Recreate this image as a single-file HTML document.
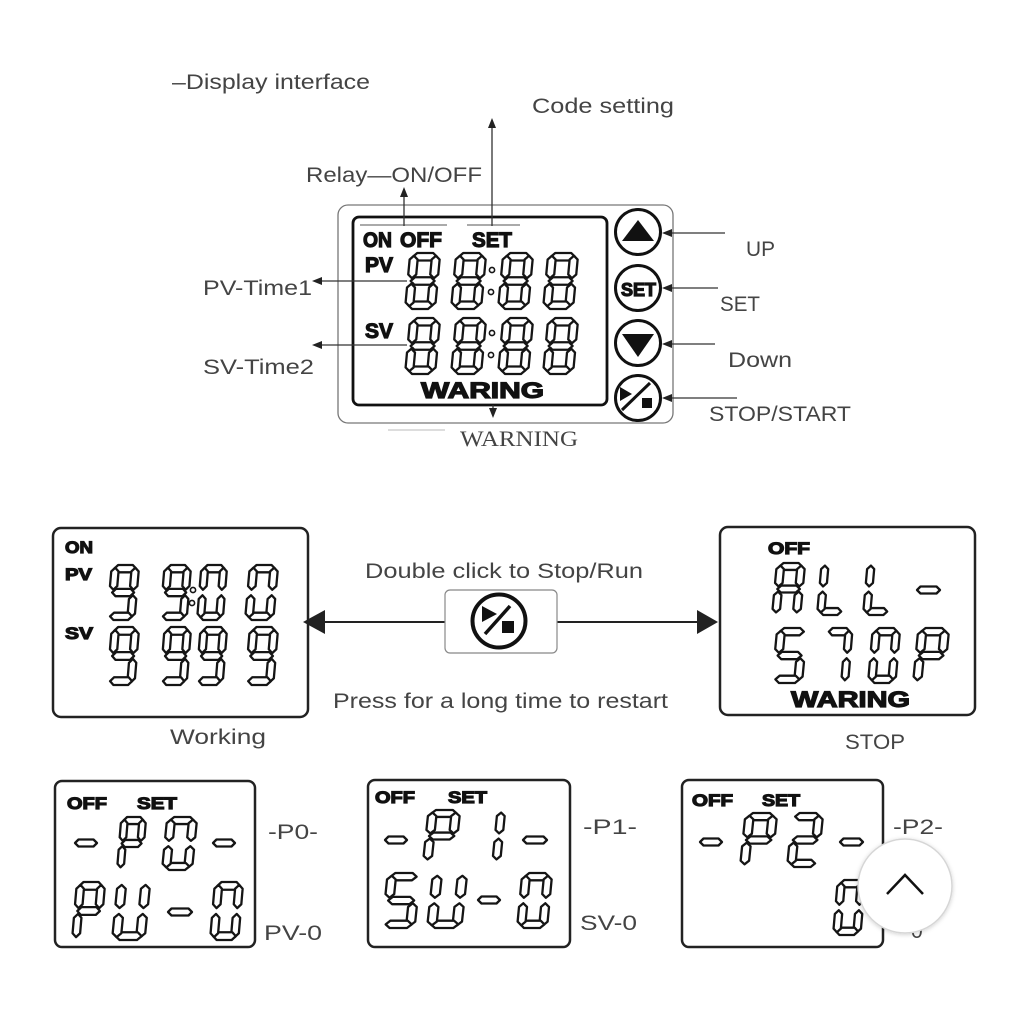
<!DOCTYPE html>
<html><head><meta charset="utf-8"><style>
html,body{margin:0;padding:0;background:#fff}
svg{display:block}
.d polygon{fill:#fff;stroke:#151515;stroke-width:2.3;vector-effect:non-scaling-stroke;stroke-linejoin:round}
.dash{fill:#fff;stroke:#151515;stroke-width:2.3;stroke-linejoin:round}
.lbl{font-family:"Liberation Sans",sans-serif;fill:#444;font-size:21px}
.lcd{font-family:"Liberation Sans",sans-serif;font-weight:bold;fill:#111;stroke:#111;stroke-width:1.2}
.ln{stroke:#333;stroke-width:1.3;fill:none}
.ah{fill:#222}
</style></head><body>
<svg width="1024" height="1024" viewBox="0 0 1024 1024" xmlns="http://www.w3.org/2000/svg">
<defs><filter id="sh" x="-30%" y="-30%" width="160%" height="160%"><feDropShadow dx="0" dy="1" stdDeviation="2" flood-color="#000" flood-opacity="0.18"/></filter></defs>
<rect width="1024" height="1024" fill="#fff"/>

<!-- top labels -->
<text class="lbl" x="172" y="89" font-size="22" textLength="198" lengthAdjust="spacingAndGlyphs">–Display interface</text>
<text class="lbl" x="532" y="113" font-size="22" textLength="142" lengthAdjust="spacingAndGlyphs">Code setting</text>
<text class="lbl" x="306" y="182" font-size="22" textLength="176" lengthAdjust="spacingAndGlyphs">Relay—ON/OFF</text>
<text class="lbl" x="203" y="295" textLength="109" lengthAdjust="spacingAndGlyphs">PV-Time1</text>
<text class="lbl" x="203" y="374" textLength="111" lengthAdjust="spacingAndGlyphs">SV-Time2</text>
<text class="lbl" x="746" y="256" textLength="29" lengthAdjust="spacingAndGlyphs">UP</text>
<text class="lbl" x="720" y="311" textLength="40" lengthAdjust="spacingAndGlyphs">SET</text>
<text class="lbl" x="728" y="367" textLength="64" lengthAdjust="spacingAndGlyphs">Down</text>
<text class="lbl" x="709" y="421" textLength="142" lengthAdjust="spacingAndGlyphs">STOP/START</text>
<text x="460" y="446" font-family="'Liberation Serif',serif" font-size="22" fill="#444" textLength="118" lengthAdjust="spacingAndGlyphs">WARNING</text>
<line x1="388" y1="430" x2="445" y2="430" stroke="#bbb" stroke-width="1"/>

<!-- top housing -->
<rect x="338" y="205" width="335" height="218" rx="10" fill="none" stroke="#777" stroke-width="1.3"/>
<rect x="353" y="217" width="254" height="188" rx="6" fill="none" stroke="#111" stroke-width="2.8"/>
<line x1="360" y1="225" x2="447" y2="225" stroke="#555" stroke-width="1"/>
<line x1="467" y1="225" x2="520" y2="225" stroke="#555" stroke-width="1"/>

<!-- connectors top -->
<line class="ln" x1="404" y1="226" x2="404" y2="196"/><polygon class="ah" points="404,187 400,197 408,197"/>
<line class="ln" x1="492" y1="226" x2="492" y2="127"/><polygon class="ah" points="492,118 488,128 496,128"/>
<line class="ln" x1="407" y1="281" x2="320" y2="281"/><polygon class="ah" points="312,281 322,277 322,285"/>
<line class="ln" x1="407" y1="345" x2="320" y2="345"/><polygon class="ah" points="312,345 322,341 322,349"/>
<line class="ln" x1="672" y1="233" x2="725" y2="233"/><polygon class="ah" points="662,233 672,229 672,237"/>
<line class="ln" x1="672" y1="288" x2="718" y2="288"/><polygon class="ah" points="662,288 672,284 672,292"/>
<line class="ln" x1="672" y1="344" x2="715" y2="344"/><polygon class="ah" points="662,344 672,340 672,348"/>
<line class="ln" x1="672" y1="398" x2="737" y2="398"/><polygon class="ah" points="662,398 672,394 672,402"/>
<line class="ln" x1="493" y1="405" x2="493" y2="409"/><polygon class="ah" points="493,418 489,408 497,408"/>

<!-- top LCD labels -->
<text class="lcd" x="363" y="247" font-size="21" textLength="29" lengthAdjust="spacingAndGlyphs">ON</text>
<text class="lcd" x="400" y="247" font-size="21" textLength="42" lengthAdjust="spacingAndGlyphs">OFF</text>
<text class="lcd" x="472" y="247" font-size="21" textLength="40" lengthAdjust="spacingAndGlyphs">SET</text>
<text class="lcd" x="365" y="272" font-size="21" textLength="28" lengthAdjust="spacingAndGlyphs">PV</text>
<text class="lcd" x="365" y="338" font-size="21" textLength="28" lengthAdjust="spacingAndGlyphs">SV</text>
<text class="lcd" x="421" y="398" font-size="22" textLength="123" lengthAdjust="spacingAndGlyphs" stroke-width="0.8">WARING</text>

<!-- top digits -->
<g class="d" transform="translate(405,253) scale(1,.933) translate(5.25,0) skewX(-5)"><polygon points="7,0 23,0 27,4 23,8 7,8 3,4"/><polygon points="22,7 26,3 30,7 30,23 26,27 22,23"/><polygon points="22,37 26,33 30,37 30,53 26,57 22,53"/><polygon points="7,52 23,52 27,56 23,60 7,60 3,56"/><polygon points="0,37 4,33 8,37 8,53 4,57 0,53"/><polygon points="0,7 4,3 8,7 8,23 4,27 0,23"/><polygon points="7,26 23,26 27,30 23,34 7,34 3,30"/></g>
<g class="d" transform="translate(451,253) scale(1,.933) translate(5.25,0) skewX(-5)"><polygon points="7,0 23,0 27,4 23,8 7,8 3,4"/><polygon points="22,7 26,3 30,7 30,23 26,27 22,23"/><polygon points="22,37 26,33 30,37 30,53 26,57 22,53"/><polygon points="7,52 23,52 27,56 23,60 7,60 3,56"/><polygon points="0,37 4,33 8,37 8,53 4,57 0,53"/><polygon points="0,7 4,3 8,7 8,23 4,27 0,23"/><polygon points="7,26 23,26 27,30 23,34 7,34 3,30"/></g>
<g class="d" transform="translate(498,253) scale(1,.933) translate(5.25,0) skewX(-5)"><polygon points="7,0 23,0 27,4 23,8 7,8 3,4"/><polygon points="22,7 26,3 30,7 30,23 26,27 22,23"/><polygon points="22,37 26,33 30,37 30,53 26,57 22,53"/><polygon points="7,52 23,52 27,56 23,60 7,60 3,56"/><polygon points="0,37 4,33 8,37 8,53 4,57 0,53"/><polygon points="0,7 4,3 8,7 8,23 4,27 0,23"/><polygon points="7,26 23,26 27,30 23,34 7,34 3,30"/></g>
<g class="d" transform="translate(543,253) scale(1,.933) translate(5.25,0) skewX(-5)"><polygon points="7,0 23,0 27,4 23,8 7,8 3,4"/><polygon points="22,7 26,3 30,7 30,23 26,27 22,23"/><polygon points="22,37 26,33 30,37 30,53 26,57 22,53"/><polygon points="7,52 23,52 27,56 23,60 7,60 3,56"/><polygon points="0,37 4,33 8,37 8,53 4,57 0,53"/><polygon points="0,7 4,3 8,7 8,23 4,27 0,23"/><polygon points="7,26 23,26 27,30 23,34 7,34 3,30"/></g>
<g class="d" transform="translate(405,318) scale(1,.933) translate(5.25,0) skewX(-5)"><polygon points="7,0 23,0 27,4 23,8 7,8 3,4"/><polygon points="22,7 26,3 30,7 30,23 26,27 22,23"/><polygon points="22,37 26,33 30,37 30,53 26,57 22,53"/><polygon points="7,52 23,52 27,56 23,60 7,60 3,56"/><polygon points="0,37 4,33 8,37 8,53 4,57 0,53"/><polygon points="0,7 4,3 8,7 8,23 4,27 0,23"/><polygon points="7,26 23,26 27,30 23,34 7,34 3,30"/></g>
<g class="d" transform="translate(451,318) scale(1,.933) translate(5.25,0) skewX(-5)"><polygon points="7,0 23,0 27,4 23,8 7,8 3,4"/><polygon points="22,7 26,3 30,7 30,23 26,27 22,23"/><polygon points="22,37 26,33 30,37 30,53 26,57 22,53"/><polygon points="7,52 23,52 27,56 23,60 7,60 3,56"/><polygon points="0,37 4,33 8,37 8,53 4,57 0,53"/><polygon points="0,7 4,3 8,7 8,23 4,27 0,23"/><polygon points="7,26 23,26 27,30 23,34 7,34 3,30"/></g>
<g class="d" transform="translate(498,318) scale(1,.933) translate(5.25,0) skewX(-5)"><polygon points="7,0 23,0 27,4 23,8 7,8 3,4"/><polygon points="22,7 26,3 30,7 30,23 26,27 22,23"/><polygon points="22,37 26,33 30,37 30,53 26,57 22,53"/><polygon points="7,52 23,52 27,56 23,60 7,60 3,56"/><polygon points="0,37 4,33 8,37 8,53 4,57 0,53"/><polygon points="0,7 4,3 8,7 8,23 4,27 0,23"/><polygon points="7,26 23,26 27,30 23,34 7,34 3,30"/></g>
<g class="d" transform="translate(543,318) scale(1,.933) translate(5.25,0) skewX(-5)"><polygon points="7,0 23,0 27,4 23,8 7,8 3,4"/><polygon points="22,7 26,3 30,7 30,23 26,27 22,23"/><polygon points="22,37 26,33 30,37 30,53 26,57 22,53"/><polygon points="7,52 23,52 27,56 23,60 7,60 3,56"/><polygon points="0,37 4,33 8,37 8,53 4,57 0,53"/><polygon points="0,7 4,3 8,7 8,23 4,27 0,23"/><polygon points="7,26 23,26 27,30 23,34 7,34 3,30"/></g>
<g fill="#fff" stroke="#151515" stroke-width="1.6"><circle cx="492" cy="270" r="2.6"/><circle cx="491" cy="292" r="2.6"/><circle cx="492" cy="333" r="2.6"/><circle cx="491" cy="355" r="2.6"/></g>

<!-- buttons -->
<g fill="none" stroke="#111" stroke-width="3"><circle cx="638" cy="232" r="22.5"/><circle cx="638" cy="288" r="22.5"/><circle cx="638" cy="343" r="22.5"/><circle cx="638" cy="398" r="22.5"/></g>
<polygon points="638,220 622,241 654,241" fill="#111"/>
<polygon points="622,334 654,334 638,357" fill="#111"/>
<text class="lcd" x="621" y="296" font-size="18" textLength="35" lengthAdjust="spacingAndGlyphs" stroke-width="0.6">SET</text>
<polygon points="620,387 620,401 632,394" fill="#111"/>
<rect x="642" y="398" width="10" height="10" fill="#111"/>
<line x1="622" y1="410" x2="650" y2="383" stroke="#111" stroke-width="3"/>

<!-- middle section -->
<rect x="53" y="528" width="255" height="189" rx="8" fill="none" stroke="#222" stroke-width="2.5"/>
<rect x="720" y="527" width="255" height="188" rx="8" fill="none" stroke="#222" stroke-width="2.5"/>
<line x1="324" y1="622" x2="445" y2="622" stroke="#222" stroke-width="2"/>
<polygon class="ah" points="303,622 325,610 325,634"/>
<line x1="557" y1="622" x2="698" y2="622" stroke="#222" stroke-width="2"/>
<polygon class="ah" points="718,622 697,610 697,634"/>
<rect x="445" y="590" width="112" height="63" rx="5" fill="#fff" stroke="#888" stroke-width="1.2"/>
<circle cx="499" cy="621" r="26.5" fill="none" stroke="#111" stroke-width="4"/>
<polygon points="482,606 482,622 497,614" fill="#111"/>
<rect x="502" y="621" width="12" height="12" fill="#111"/>
<line x1="485" y1="634" x2="510" y2="606" stroke="#111" stroke-width="3.5"/>
<text class="lbl" x="365" y="578" textLength="278" lengthAdjust="spacingAndGlyphs">Double click to Stop/Run</text>
<text class="lbl" x="333" y="708" textLength="335" lengthAdjust="spacingAndGlyphs">Press for a long time to restart</text>
<text class="lbl" x="170" y="744" textLength="96" lengthAdjust="spacingAndGlyphs">Working</text>
<text class="lbl" x="845" y="749" textLength="60" lengthAdjust="spacingAndGlyphs">STOP</text>

<!-- working display -->
<text class="lcd" x="65" y="553" font-size="17" textLength="28" lengthAdjust="spacingAndGlyphs">ON</text>
<text class="lcd" x="65" y="580" font-size="17" textLength="27" lengthAdjust="spacingAndGlyphs">PV</text>
<text class="lcd" x="65" y="639" font-size="17" textLength="28" lengthAdjust="spacingAndGlyphs">SV</text>
<!-- 9 9 : 0 0 -->
<g class="d" transform="translate(107,565) scale(.914,.917) translate(5.25,0) skewX(-5)"><polygon points="7,0 23,0 27,4 23,8 7,8 3,4"/><polygon points="22,7 26,3 30,7 30,23 26,27 22,23"/><polygon points="22,37 26,33 30,37 30,53 26,57 22,53"/><polygon points="7,52 23,52 27,56 23,60 7,60 3,56"/><polygon points="0,7 4,3 8,7 8,23 4,27 0,23"/><polygon points="7,26 23,26 27,30 23,34 7,34 3,30"/></g>
<g class="d" transform="translate(160,565) scale(.885,.917) translate(5.25,0) skewX(-5)"><polygon points="7,0 23,0 27,4 23,8 7,8 3,4"/><polygon points="22,7 26,3 30,7 30,23 26,27 22,23"/><polygon points="22,37 26,33 30,37 30,53 26,57 22,53"/><polygon points="7,52 23,52 27,56 23,60 7,60 3,56"/><polygon points="0,7 4,3 8,7 8,23 4,27 0,23"/><polygon points="7,26 23,26 27,30 23,34 7,34 3,30"/></g>
<g class="d" transform="translate(197,565) scale(.858,.917) translate(5.25,0) skewX(-5)"><polygon points="7,0 23,0 27,4 23,8 7,8 3,4"/><polygon points="22,7 26,3 30,7 30,23 26,27 22,23"/><polygon points="22,37 26,33 30,37 30,53 26,57 22,53"/><polygon points="7,52 23,52 27,56 23,60 7,60 3,56"/><polygon points="0,37 4,33 8,37 8,53 4,57 0,53"/><polygon points="0,7 4,3 8,7 8,23 4,27 0,23"/></g>
<g class="d" transform="translate(245,565) scale(.942,.917) translate(5.25,0) skewX(-5)"><polygon points="7,0 23,0 27,4 23,8 7,8 3,4"/><polygon points="22,7 26,3 30,7 30,23 26,27 22,23"/><polygon points="22,37 26,33 30,37 30,53 26,57 22,53"/><polygon points="7,52 23,52 27,56 23,60 7,60 3,56"/><polygon points="0,37 4,33 8,37 8,53 4,57 0,53"/><polygon points="0,7 4,3 8,7 8,23 4,27 0,23"/></g>
<g fill="#fff" stroke="#151515" stroke-width="1.6"><circle cx="193" cy="590" r="2.6"/><circle cx="192" cy="603" r="2.6"/></g>
<!-- SV 9999 -->
<g class="d" transform="translate(107,627) scale(.914,.967) translate(5.25,0) skewX(-5)"><polygon points="7,0 23,0 27,4 23,8 7,8 3,4"/><polygon points="22,7 26,3 30,7 30,23 26,27 22,23"/><polygon points="22,37 26,33 30,37 30,53 26,57 22,53"/><polygon points="7,52 23,52 27,56 23,60 7,60 3,56"/><polygon points="0,7 4,3 8,7 8,23 4,27 0,23"/><polygon points="7,26 23,26 27,30 23,34 7,34 3,30"/></g>
<g class="d" transform="translate(160,627) scale(.885,.967) translate(5.25,0) skewX(-5)"><polygon points="7,0 23,0 27,4 23,8 7,8 3,4"/><polygon points="22,7 26,3 30,7 30,23 26,27 22,23"/><polygon points="22,37 26,33 30,37 30,53 26,57 22,53"/><polygon points="7,52 23,52 27,56 23,60 7,60 3,56"/><polygon points="0,7 4,3 8,7 8,23 4,27 0,23"/><polygon points="7,26 23,26 27,30 23,34 7,34 3,30"/></g>
<g class="d" transform="translate(196,627) scale(.885,.967) translate(5.25,0) skewX(-5)"><polygon points="7,0 23,0 27,4 23,8 7,8 3,4"/><polygon points="22,7 26,3 30,7 30,23 26,27 22,23"/><polygon points="22,37 26,33 30,37 30,53 26,57 22,53"/><polygon points="7,52 23,52 27,56 23,60 7,60 3,56"/><polygon points="0,7 4,3 8,7 8,23 4,27 0,23"/><polygon points="7,26 23,26 27,30 23,34 7,34 3,30"/></g>
<g class="d" transform="translate(245,627) scale(.942,.967) translate(5.25,0) skewX(-5)"><polygon points="7,0 23,0 27,4 23,8 7,8 3,4"/><polygon points="22,7 26,3 30,7 30,23 26,27 22,23"/><polygon points="22,37 26,33 30,37 30,53 26,57 22,53"/><polygon points="7,52 23,52 27,56 23,60 7,60 3,56"/><polygon points="0,7 4,3 8,7 8,23 4,27 0,23"/><polygon points="7,26 23,26 27,30 23,34 7,34 3,30"/></g>

<!-- stop display -->
<text class="lcd" x="768" y="554" font-size="17" textLength="42" lengthAdjust="spacingAndGlyphs">OFF</text>
<text class="lcd" x="791" y="707" font-size="22" textLength="119" lengthAdjust="spacingAndGlyphs" stroke-width="0.8">WARING</text>
<!-- A -->
<g class="d" transform="translate(772,563) scale(.942,.867) translate(5.25,0) skewX(-5)"><polygon points="7,0 23,0 27,4 23,8 7,8 3,4"/><polygon points="22,7 26,3 30,7 30,23 26,27 22,23"/><polygon points="22,37 26,33 30,37 30,53 26,57 22,53"/><polygon points="0,37 4,33 8,37 8,53 4,57 0,53"/><polygon points="0,7 4,3 8,7 8,23 4,27 0,23"/><polygon points="7,26 23,26 27,30 23,34 7,34 3,30"/></g>
<!-- L L -->
<g class="d" transform="translate(817,563) scale(.885,.867) translate(5.25,0) skewX(-5)"><polygon points="7,52 23,52 27,56 23,60 7,60 3,56"/><polygon points="0,37 4,33 8,37 8,53 4,57 0,53"/><polygon points="0,7 4,3 8,7 8,23 4,27 0,23"/></g>
<g class="d" transform="translate(863,563) scale(.885,.867) translate(5.25,0) skewX(-5)"><polygon points="7,52 23,52 27,56 23,60 7,60 3,56"/><polygon points="0,37 4,33 8,37 8,53 4,57 0,53"/><polygon points="0,7 4,3 8,7 8,23 4,27 0,23"/></g>
<polygon class="dash" points="917,590 920.5,586.5 936.5,586.5 940,590 936.5,593.5 920.5,593.5"/>
<!-- S 7 0 P -->
<g class="d" transform="translate(772,628) scale(.999,.917) translate(5.25,0) skewX(-5)"><polygon points="7,0 23,0 27,4 23,8 7,8 3,4"/><polygon points="22,37 26,33 30,37 30,53 26,57 22,53"/><polygon points="7,52 23,52 27,56 23,60 7,60 3,56"/><polygon points="0,7 4,3 8,7 8,23 4,27 0,23"/><polygon points="7,26 23,26 27,30 23,34 7,34 3,30"/></g>
<g class="d" transform="translate(822,628) scale(.869,.917) translate(5.25,0) skewX(-5)"><polygon points="7,0 23,0 27,4 23,8 7,8 3,4"/><polygon points="22,7 26,3 30,7 30,23 26,27 22,23"/><polygon points="22,37 26,33 30,37 30,53 26,57 22,53"/></g>
<g class="d" transform="translate(868,628) scale(.914,.917) translate(5.25,0) skewX(-5)"><polygon points="7,0 23,0 27,4 23,8 7,8 3,4"/><polygon points="22,7 26,3 30,7 30,23 26,27 22,23"/><polygon points="22,37 26,33 30,37 30,53 26,57 22,53"/><polygon points="7,52 23,52 27,56 23,60 7,60 3,56"/><polygon points="0,37 4,33 8,37 8,53 4,57 0,53"/><polygon points="0,7 4,3 8,7 8,23 4,27 0,23"/></g>
<g class="d" transform="translate(913,628) scale(1.028,.917) translate(5.25,0) skewX(-5)"><polygon points="7,0 23,0 27,4 23,8 7,8 3,4"/><polygon points="22,7 26,3 30,7 30,23 26,27 22,23"/><polygon points="0,37 4,33 8,37 8,53 4,57 0,53"/><polygon points="0,7 4,3 8,7 8,23 4,27 0,23"/><polygon points="7,26 23,26 27,30 23,34 7,34 3,30"/></g>

<!-- bottom boxes -->
<rect x="55" y="781" width="200" height="166" rx="7" fill="none" stroke="#222" stroke-width="2.5"/>
<rect x="368" y="780" width="202" height="167" rx="7" fill="none" stroke="#222" stroke-width="2.5"/>
<rect x="682" y="780" width="201" height="167" rx="7" fill="none" stroke="#222" stroke-width="2.5"/>

<!-- P0 -->
<text class="lcd" x="67" y="809" font-size="17" textLength="40" lengthAdjust="spacingAndGlyphs">OFF</text>
<text class="lcd" x="137" y="809" font-size="17" textLength="40" lengthAdjust="spacingAndGlyphs">SET</text>
<polygon class="dash" points="75,843 78.5,839.5 93.5,839.5 97,843 93.5,846.5 78.5,846.5"/>
<polygon class="dash" points="213,843 216.5,839.5 231.5,839.5 235,843 231.5,846.5 216.5,846.5"/>
<g class="d" transform="translate(117,817) scale(.828,.883) translate(5.25,0) skewX(-5)"><polygon points="7,0 23,0 27,4 23,8 7,8 3,4"/><polygon points="22,7 26,3 30,7 30,23 26,27 22,23"/><polygon points="0,37 4,33 8,37 8,53 4,57 0,53"/><polygon points="0,7 4,3 8,7 8,23 4,27 0,23"/><polygon points="7,26 23,26 27,30 23,34 7,34 3,30"/></g>
<g class="d" transform="translate(162,817) scale(1,.883) translate(5.25,0) skewX(-5)"><polygon points="7,0 23,0 27,4 23,8 7,8 3,4"/><polygon points="22,7 26,3 30,7 30,23 26,27 22,23"/><polygon points="22,37 26,33 30,37 30,53 26,57 22,53"/><polygon points="7,52 23,52 27,56 23,60 7,60 3,56"/><polygon points="0,37 4,33 8,37 8,53 4,57 0,53"/><polygon points="0,7 4,3 8,7 8,23 4,27 0,23"/></g>
<g class="d" transform="translate(72,882) scale(.942,.967) translate(5.25,0) skewX(-5)"><polygon points="7,0 23,0 27,4 23,8 7,8 3,4"/><polygon points="22,7 26,3 30,7 30,23 26,27 22,23"/><polygon points="0,37 4,33 8,37 8,53 4,57 0,53"/><polygon points="0,7 4,3 8,7 8,23 4,27 0,23"/><polygon points="7,26 23,26 27,30 23,34 7,34 3,30"/></g>
<g class="d" transform="translate(112,882) scale(1.086,.967) translate(5.25,0) skewX(-5)"><polygon points="22,7 26,3 30,7 30,23 26,27 22,23"/><polygon points="22,37 26,33 30,37 30,53 26,57 22,53"/><polygon points="7,52 23,52 27,56 23,60 7,60 3,56"/><polygon points="0,37 4,33 8,37 8,53 4,57 0,53"/><polygon points="0,7 4,3 8,7 8,23 4,27 0,23"/></g>
<polygon class="dash" points="168,912 171.5,908.5 188.5,908.5 192,912 188.5,915.5 171.5,915.5"/>
<g class="d" transform="translate(210,882) scale(.942,.967) translate(5.25,0) skewX(-5)"><polygon points="7,0 23,0 27,4 23,8 7,8 3,4"/><polygon points="22,7 26,3 30,7 30,23 26,27 22,23"/><polygon points="22,37 26,33 30,37 30,53 26,57 22,53"/><polygon points="7,52 23,52 27,56 23,60 7,60 3,56"/><polygon points="0,37 4,33 8,37 8,53 4,57 0,53"/><polygon points="0,7 4,3 8,7 8,23 4,27 0,23"/></g>
<text class="lbl" x="268" y="839" font-size="19" textLength="50" lengthAdjust="spacingAndGlyphs">-P0-</text>
<text class="lbl" x="264" y="940" font-size="20" textLength="58" lengthAdjust="spacingAndGlyphs">PV-0</text>

<!-- P1 -->
<text class="lcd" x="375" y="803" font-size="17" textLength="40" lengthAdjust="spacingAndGlyphs">OFF</text>
<text class="lcd" x="448" y="803" font-size="17" textLength="39" lengthAdjust="spacingAndGlyphs">SET</text>
<polygon class="dash" points="385,840 388.5,836.5 403.5,836.5 407,840 403.5,843.5 388.5,843.5"/>
<polygon class="dash" points="523,840 526.5,836.5 543.5,836.5 547,840 543.5,843.5 526.5,843.5"/>
<g class="d" transform="translate(423,810) scale(1.057,.867) translate(5.25,0) skewX(-5)"><polygon points="7,0 23,0 27,4 23,8 7,8 3,4"/><polygon points="22,7 26,3 30,7 30,23 26,27 22,23"/><polygon points="0,37 4,33 8,37 8,53 4,57 0,53"/><polygon points="0,7 4,3 8,7 8,23 4,27 0,23"/><polygon points="7,26 23,26 27,30 23,34 7,34 3,30"/></g>
<g class="d" transform="translate(471,810) scale(.972,.867) translate(5.25,0) skewX(-5)"><polygon points="22,7 26,3 30,7 30,23 26,27 22,23"/><polygon points="22,37 26,33 30,37 30,53 26,57 22,53"/></g>
<g class="d" transform="translate(382,873) scale(1.086,.917) translate(5.25,0) skewX(-5)"><polygon points="7,0 23,0 27,4 23,8 7,8 3,4"/><polygon points="22,37 26,33 30,37 30,53 26,57 22,53"/><polygon points="7,52 23,52 27,56 23,60 7,60 3,56"/><polygon points="0,7 4,3 8,7 8,23 4,27 0,23"/><polygon points="7,26 23,26 27,30 23,34 7,34 3,30"/></g>
<g class="d" transform="translate(427,873) scale(1.143,.917) translate(5.25,0) skewX(-5)"><polygon points="22,7 26,3 30,7 30,23 26,27 22,23"/><polygon points="22,37 26,33 30,37 30,53 26,57 22,53"/><polygon points="7,52 23,52 27,56 23,60 7,60 3,56"/><polygon points="0,37 4,33 8,37 8,53 4,57 0,53"/><polygon points="0,7 4,3 8,7 8,23 4,27 0,23"/></g>
<polygon class="dash" points="478,900 481.5,896.5 496.5,896.5 500,900 496.5,903.5 481.5,903.5"/>
<g class="d" transform="translate(517,873) scale(1,.917) translate(5.25,0) skewX(-5)"><polygon points="7,0 23,0 27,4 23,8 7,8 3,4"/><polygon points="22,7 26,3 30,7 30,23 26,27 22,23"/><polygon points="22,37 26,33 30,37 30,53 26,57 22,53"/><polygon points="7,52 23,52 27,56 23,60 7,60 3,56"/><polygon points="0,37 4,33 8,37 8,53 4,57 0,53"/><polygon points="0,7 4,3 8,7 8,23 4,27 0,23"/></g>
<text class="lbl" x="583" y="834" font-size="19" textLength="54" lengthAdjust="spacingAndGlyphs">-P1-</text>
<text class="lbl" x="580" y="930" font-size="20" textLength="57" lengthAdjust="spacingAndGlyphs">SV-0</text>

<!-- P2 -->
<text class="lcd" x="692" y="806" font-size="17" textLength="41" lengthAdjust="spacingAndGlyphs">OFF</text>
<text class="lcd" x="762" y="806" font-size="17" textLength="38" lengthAdjust="spacingAndGlyphs">SET</text>
<polygon class="dash" points="700,842 703.5,838.5 718.5,838.5 722,842 718.5,845.5 703.5,845.5"/>
<polygon class="dash" points="840,842 843.5,838.5 859.5,838.5 863,842 859.5,845.5 843.5,845.5"/>
<g class="d" transform="translate(740,813) scale(1.057,.9) translate(5.25,0) skewX(-5)"><polygon points="7,0 23,0 27,4 23,8 7,8 3,4"/><polygon points="22,7 26,3 30,7 30,23 26,27 22,23"/><polygon points="0,37 4,33 8,37 8,53 4,57 0,53"/><polygon points="0,7 4,3 8,7 8,23 4,27 0,23"/><polygon points="7,26 23,26 27,30 23,34 7,34 3,30"/></g>
<g class="d" transform="translate(787,813) scale(1.028,.9) translate(5.25,0) skewX(-5)"><polygon points="7,0 23,0 27,4 23,8 7,8 3,4"/><polygon points="22,7 26,3 30,7 30,23 26,27 22,23"/><polygon points="7,52 23,52 27,56 23,60 7,60 3,56"/><polygon points="0,37 4,33 8,37 8,53 4,57 0,53"/><polygon points="7,26 23,26 27,30 23,34 7,34 3,30"/></g>
<g class="d" transform="translate(833,880) scale(.914,.917) translate(5.25,0) skewX(-5)"><polygon points="7,0 23,0 27,4 23,8 7,8 3,4"/><polygon points="22,7 26,3 30,7 30,23 26,27 22,23"/><polygon points="22,37 26,33 30,37 30,53 26,57 22,53"/><polygon points="7,52 23,52 27,56 23,60 7,60 3,56"/><polygon points="0,37 4,33 8,37 8,53 4,57 0,53"/><polygon points="0,7 4,3 8,7 8,23 4,27 0,23"/></g>
<text class="lbl" x="893" y="834" font-size="19" textLength="50" lengthAdjust="spacingAndGlyphs">-P2-</text>
<text class="lbl" x="911" y="938" font-size="20">0</text>

<!-- scroll-to-top button -->
<circle cx="905" cy="886" r="47" fill="#fff" stroke="#d6d6d6" stroke-width="1.5" filter="url(#sh)"/>
<polyline points="887,894 905,875 923,894" fill="none" stroke="#111" stroke-width="2.5"/>
</svg>
</body></html>
